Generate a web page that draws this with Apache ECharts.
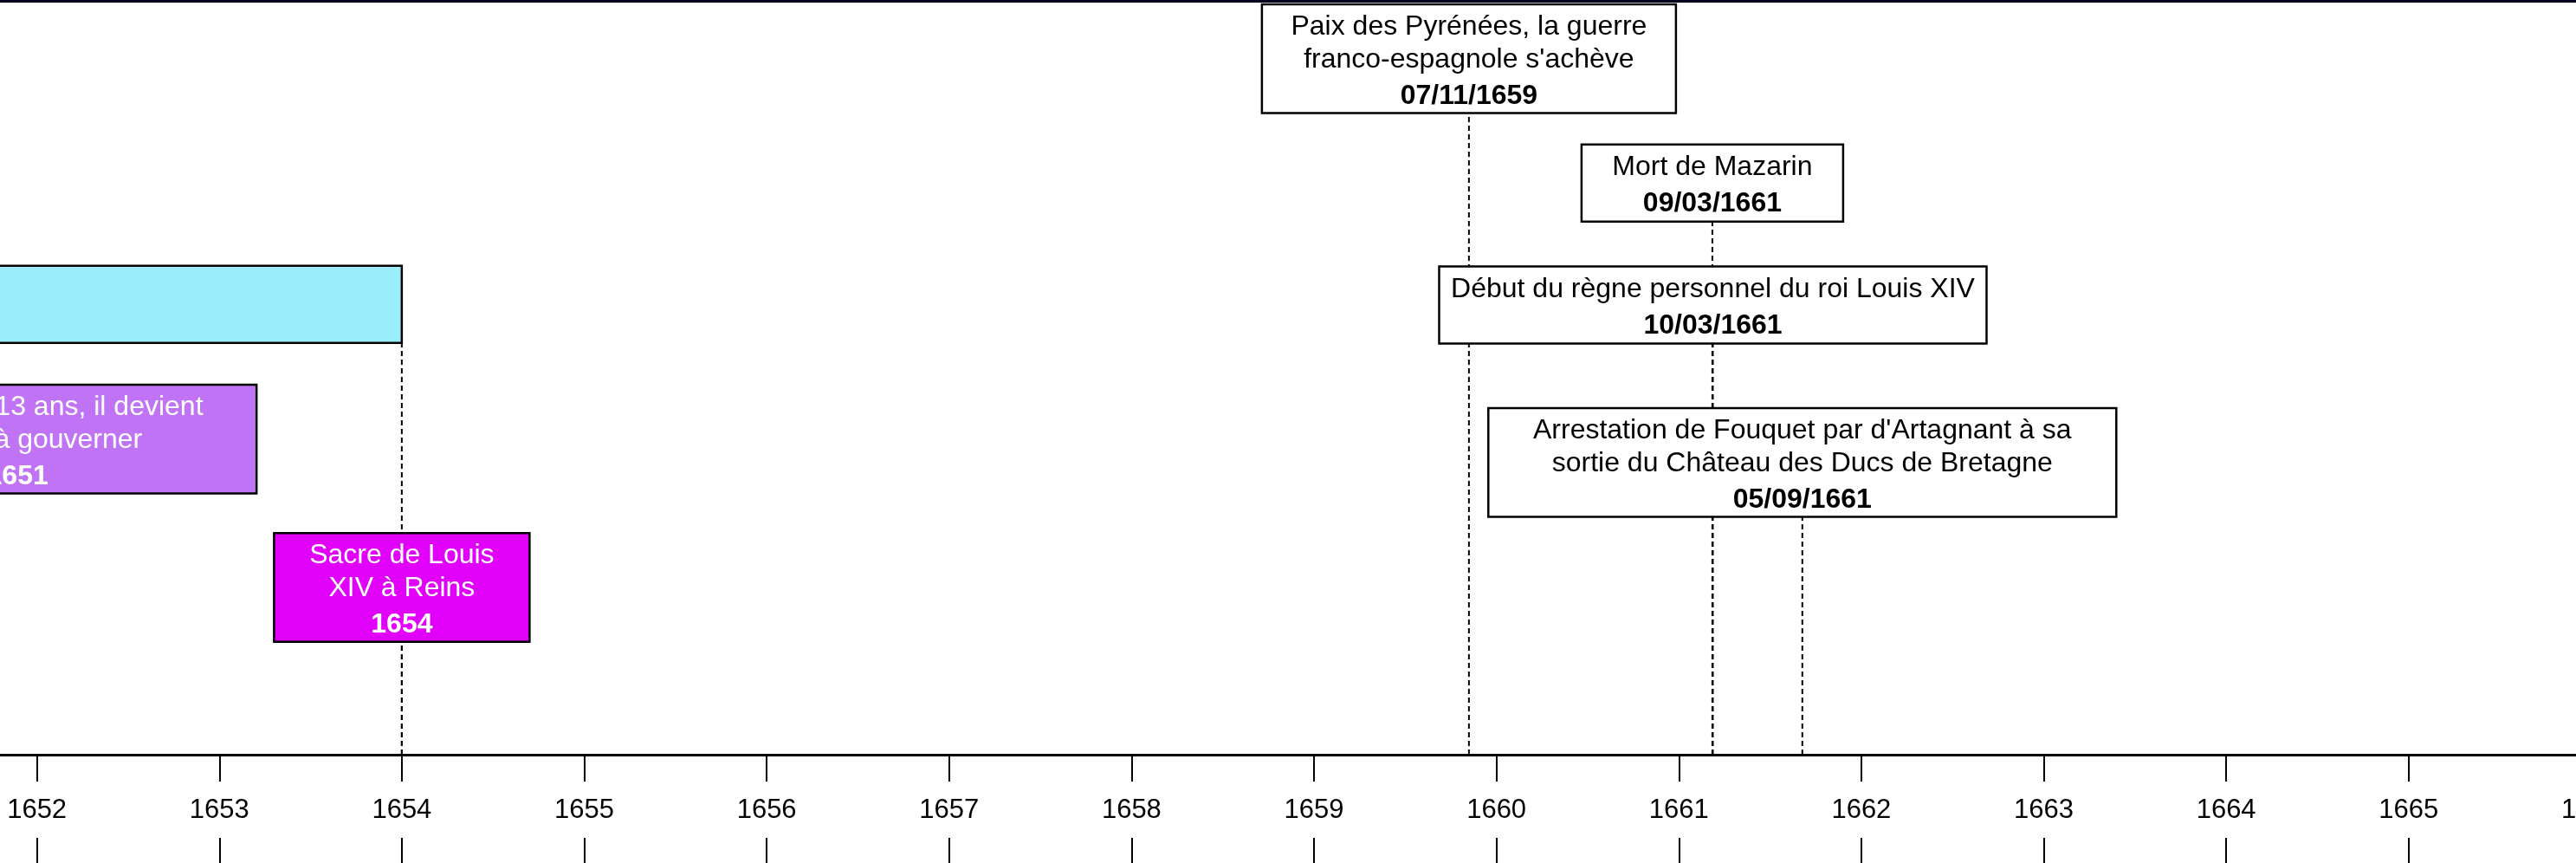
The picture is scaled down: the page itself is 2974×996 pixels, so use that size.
<!DOCTYPE html>
<html>
<head>
<meta charset="utf-8">
<script src="https://cdn.jsdelivr.net/npm/echarts@6/dist/echarts.min.js"></script>
<style>
  html, body { margin: 0; padding: 0; background: #fff; }
  #chart { width: 2974px; height: 996px; }
</style>
</head>
<body>
<div id="chart"></div>
<script>
// events of the timeline
const eventText = [
  'La Fronde',
  'Quand Louis XIV a 13 ans, il devient\nmajeur et prêt à gouverner',
  'Sacre de Louis\nXIV à Reins',
  "Paix des Pyrénées, la guerre\nfranco-espagnole s'achève",
  'Mort de Mazarin',
  'Début du règne personnel du roi Louis XIV',
  "Arrestation de Fouquet par d'Artagnant à sa\nsortie du Château des Ducs de Bretagne"
]
const eventStart = ['01/01/1648', '07/09/1651', '01/01/1654', '07/11/1659', '09/03/1661', '10/03/1661', '05/09/1661']
const eventEnd = ['01/01/1654', null, null, null, null, null, null]
const eventLabel = ['1648 - 1653', '07/09/1651', '1654', '07/11/1659', '09/03/1661', '10/03/1661', '05/09/1661']
const yearMin = 1651
const yearMax = 1667

// layout of the boxes (row = top of box, 0..100 from the top)
const boxRow = [35.1, 50.9, 70.6, 0.4, 19.0, 35.2, 54.0]
const boxWidth = [0, 641, 295, 478, 302, 632, 725]
const boxFill = ['#99eefa', '#c074f5', '#e100fa', '#ffffff', '#ffffff', '#ffffff', '#ffffff']
const boxText = ['#000', '#fff', '#fff', '#000', '#000', '#000', '#000']

const FONT = 'Liberation Sans, Arial, sans-serif'
const LINE_H = 38
const DATE_H = 46

function toYear(s) {
  const [d, m, y] = s.split('/').map(Number)
  const a = Date.UTC(y, 0, 1), b = Date.UTC(y + 1, 0, 1)
  return y + (Date.UTC(y, m - 1, d) - a) / (b - a)
}

function boxHeight(i) {
  const n = eventText[i].split('\n').length + 1
  return n * 36.5 + 16
}

const data = eventStart.map((s, i) => [
  toYear(s), boxRow[i], eventEnd[i] ? toYear(eventEnd[i]) : toYear(s), i
])

const chart = echarts.init(document.getElementById('chart'))

// dashed drop lines, drawn from the axis upward so overlapping ones line up
const renderLinks = (params, api) => {
  const i = api.value(3)
  const start = api.value(0), row = api.value(1), end = api.value(2)
  const top = api.coord([start, row])[1]
  const axisY = api.coord([start, 100])[1]
  const xs = end > start ? [start, end] : [start]
  return {
    type: 'group',
    children: xs.map(v => {
      const x = api.coord([v, row])[0]
      return {
        type: 'line',
        shape: { x1: x, y1: axisY, x2: x, y2: top + boxHeight(i) },
        style: { stroke: '#000', lineWidth: 2, lineDash: [6, 4] }
      }
    })
  }
}

const renderBoxes = (params, api) => {
  const i = api.value(3)
  const start = api.value(0), row = api.value(1), end = api.value(2)
  const p0 = api.coord([start, row])
  const p1 = api.coord([end, row])
  const h = boxHeight(i)
  let x0, w
  if (end > start) {
    x0 = p0[0]; w = p1[0] - p0[0]
  } else {
    w = boxWidth[i]; x0 = p0[0] - w / 2
  }
  return {
    type: 'group',
    children: [
      {
        type: 'rect',
        shape: { x: x0, y: p0[1], width: w, height: h },
        style: { fill: boxFill[i], stroke: '#000', lineWidth: 2.5 }
      },
      {
        type: 'text',
        style: {
          x: x0 + w / 2,
          y: p0[1] + h / 2 + 5,
          text: eventText[i] + '\n{d|' + eventLabel[i] + '}',
          fill: boxText[i],
          fontSize: 32,
          fontFamily: FONT,
          lineHeight: LINE_H,
          align: 'center',
          verticalAlign: 'middle',
          rich: {
            d: { fontWeight: 'bold', fontSize: 32, fontFamily: FONT, lineHeight: DATE_H, fill: boxText[i] }
          }
        }
      }
    ]
  }
}

chart.setOption({
  animation: false,
  backgroundColor: '#fff',
  grid: { left: -168, right: -228, top: 1.5, bottom: 125, containLabel: false, outerBoundsMode: 'none' },
  xAxis: [
    {
      type: 'value', min: yearMin, max: yearMax, interval: 1, position: 'bottom',
      axisLine: { onZero: false, lineStyle: { color: '#000', width: 3 } },
      axisTick: { length: 31, lineStyle: { color: '#000', width: 2 } },
      axisLabel: { fontSize: 31, color: '#000', fontFamily: FONT, margin: 49, lineHeight: 31, formatter: v => String(v) },
      splitLine: { show: false }
    },
    {
      type: 'value', min: yearMin, max: yearMax, interval: 1, position: 'bottom', offset: 96,
      axisLine: { show: false, onZero: false },
      axisTick: { length: 40, lineStyle: { color: '#000', width: 2 } },
      axisLabel: { show: false },
      splitLine: { show: false }
    },
    {
      type: 'value', min: yearMin, max: yearMax, position: 'top',
      axisLine: { onZero: false, lineStyle: { color: '#00001e', width: 3 } },
      axisTick: { show: false },
      axisLabel: { show: false },
      splitLine: { show: false }
    }
  ],
  yAxis: { type: 'value', min: 0, max: 100, inverse: true, show: false },
  series: [
    {
      type: 'custom', z: 1, renderItem: renderLinks,
      encode: { x: [0, 2], y: 1 }, data: data
    },
    {
      type: 'custom', z: 2, renderItem: renderBoxes,
      encode: { x: [0, 2], y: 1 }, data: data
    }
  ]
})
</script>
</body>
</html>
